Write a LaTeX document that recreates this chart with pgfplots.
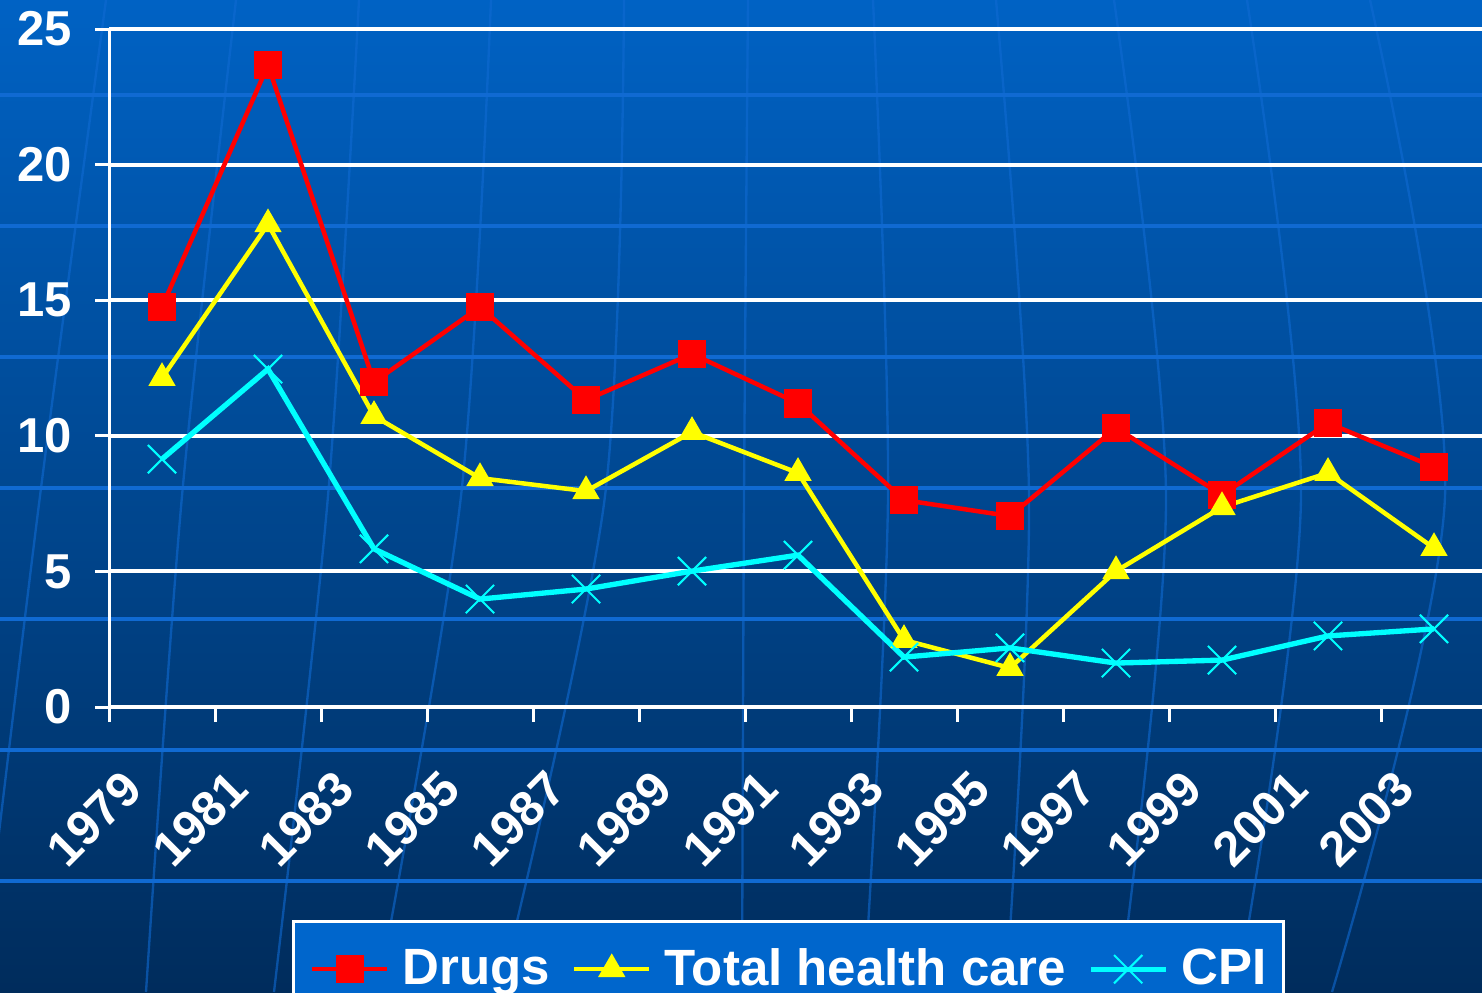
\documentclass[border=0pt]{standalone}
\usepackage{fontspec}
\setmainfont{Liberation Sans}
\usepackage{pgfplots}
\pgfplotsset{compat=1.18}
\definecolor{bgtop}{RGB}{0,98,196}
\definecolor{bgbot}{RGB}{0,44,92}
\definecolor{legfill}{RGB}{0,102,204}
\definecolor{faint}{RGB}{16,106,210}
\definecolor{cred}{RGB}{255,0,0}
\definecolor{cyel}{RGB}{255,255,0}
\definecolor{ccyan}{RGB}{0,255,255}
\begin{document}
\begin{tikzpicture}
\clip (0,0) rectangle (444.6pt,297.6pt);
\begin{scope}[x=0.3pt,y=0.3pt]
\shade[top color=bgtop,bottom color=bgbot] (0,0) rectangle (1482,992);
\foreach \yy in {111,242,373,504,635,766,897} \draw[faint,line width=1pt] (0,\yy)--(1482,\yy);
\foreach \a/\b/\c in {106/40/-20, 236/182/146, 359/328/274, 491/461/378, 624/605/500, 748/744/742, 873/888/864, 996/1029/1006, 1114/1166/1119, 1247/1301/1237, 1370/1445/1332}
  \draw[faint,opacity=0.6,line width=0.7pt] plot[smooth] coordinates {(\a,992) (\b,496) (\c,0)};
\end{scope}
\begin{scope}[overlay]
\begin{axis}[
  at={(32.7pt,85.5pt)}, anchor=south west,
  scale only axis, width=413.4pt, height=203.4pt,
  xmin=-0.5, xmax=12.5, ymin=0, ymax=25,
  axis x line*=bottom, axis y line*=left,
  axis line style={white, line width=0.9pt, -},
  ytick={0,5,10,15,20,25},
  ymajorgrids, major grid style={white, line width=1.2pt},
  xtick={0,...,12},
  xticklabels={1979,1981,1983,1985,1987,1989,1991,1993,1995,1997,1999,2001,2003},
  minor xtick={-0.5,0.5,...,12.5},
  tick align=outside,
  major tick length=4.2pt, minor tick length=4.5pt,
  tick style={white, line width=0.9pt},
  major x tick style={draw=none},
  ticklabel style={font=\bfseries\fontsize{14.7}{17}\selectfont, text=white},
  /pgf/number format/assume math mode=true,
  xticklabel style={inner sep=0pt, xshift=-12.5pt, yshift=-13.8pt, rotate=45, anchor=north east},
  yticklabel style={xshift=-3.3pt},
  legend style={
    at={(0.1328,-0.3142)}, anchor=north west,
    fill=legfill, draw=white, line width=0.9pt,
    legend columns=-1,
    font=\bfseries\fontsize{15.3}{18}\selectfont, text=white,
    inner xsep=5pt, inner ysep=8pt,
    nodes={inner sep=0pt},
    /tikz/every odd column/.append style={column sep=3.9pt},
    /tikz/every even column/.append style={column sep=6.6pt},
  },
  legend image code/.code={\draw[mark repeat=2,mark phase=2,#1] plot coordinates {(0pt,0pt) (11.25pt,0pt) (22.5pt,0pt)};},
]
\addplot[cred, line width=1.35pt, mark=square*, mark size=3.6pt, mark options={solid}] coordinates {
(0,14.75) (1,23.67) (2,11.98) (3,14.75) (4,11.32) (5,13.02) (6,11.2) (7,7.63) (8,7.04) (9,10.29) (10,7.82) (11,10.47) (12,8.85)};
\addplot[cyel, line width=1.35pt, mark=triangle*, mark size=3.4pt, mark options={solid}] coordinates {
(0,12.13) (1,17.8) (2,10.73) (3,8.44) (4,7.96) (5,10.14) (6,8.63) (7,2.47) (8,1.44) (9,5.01) (10,7.37) (11,8.63) (12,5.86)};
\addplot[ccyan, line width=1.6pt, mark=x, mark size=6pt, mark options={solid, line width=0.6pt}] coordinates {
(0,9.14) (1,12.46) (2,5.83) (3,3.98) (4,4.35) (5,5.01) (6,5.6) (7,1.84) (8,2.18) (9,1.62) (10,1.73) (11,2.62) (12,2.88)};
\legend{Drugs, Total health care, CPI}
\end{axis}
\end{scope}
\end{tikzpicture}
\end{document}
